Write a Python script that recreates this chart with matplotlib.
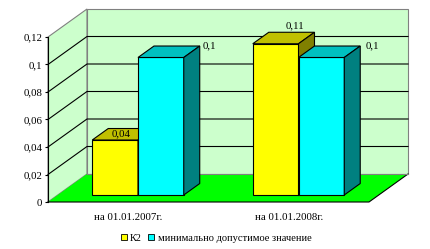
import matplotlib
matplotlib.use("Agg")
import matplotlib.pyplot as plt
from matplotlib.patches import Polygon, Patch
from matplotlib.transforms import offset_copy

# data
categories = ["на 01.01.2007г.", "на 01.01.2008г."]
series_names = ["К2", "минимально допустимое значение"]
k2_values = [0.04, 0.11]
min_values = [0.1, 0.1]
y_ticks = [0, 0.02, 0.04, 0.06, 0.08, 0.1, 0.12]

series_values = [k2_values, min_values]
front_colors = ["#FFFF00", "#00FFFF"]
top_colors = ["#C0C000", "#00C0C0"]
side_colors = ["#808000", "#008080"]
wall_color = "#CCFFCC"
floor_color = "#00FF00"

# label nudges in pixels (dx, dy) for each series/category
label_nudge = [[(-2, 0), (11, 12)], [(41, 6), (43, 6)]]

FONT = "Liberation Serif"
plt.rcParams["font.family"] = [FONT, "DejaVu Serif"]

fig = plt.figure(figsize=(4.30, 2.49), dpi=100)
ax = fig.add_axes([48 / 430, 47 / 249, 321 / 430, 165 / 249])
ax.set_xlim(0, len(categories))
ax.set_ylim(0, 0.12)
ax.patch.set_visible(False)

# depth offset (pixels) of the back wall relative to the front plane
DEPTH_PX = (39, 28)
inv = ax.transData.inverted()
x0, y0 = inv.transform((0, 0))
x1, y1 = inv.transform(DEPTH_PX)
ddx, ddy = x1 - x0, y1 - y0


def proj(x, y, d):
    return (x + ddx * d, y + ddy * d)


def face(pts, color, z, edge="black", lw=0.8):
    poly = Polygon([proj(*p) for p in pts], closed=True, facecolor=color,
                   edgecolor=edge, linewidth=lw, clip_on=False, zorder=z)
    ax.add_patch(poly)


ncat = len(categories)
ymax = y_ticks[-1]

# walls
face([(0, 0, 0), (0, ymax, 0), (0, ymax, 1), (0, 0, 1)], wall_color, 1,
     edge="#808080", lw=0.8)
face([(0, 0, 1), (ncat, 0, 1), (ncat, ymax, 1), (0, ymax, 1)], wall_color, 1,
     edge="#808080", lw=0.8)

# gridlines on back and side walls
for v in y_ticks[1:-1]:
    xs, ys = zip(*[proj(0, v, 0), proj(0, v, 1), proj(ncat, v, 1)])
    ax.plot(xs, ys, color="black", lw=0.8, clip_on=False, zorder=2)

# floor
face([(0, 0, 0), (ncat, 0, 0), (ncat, 0, 1), (0, 0, 1)], floor_color, 3,
     edge="none")
xs, ys = zip(*[proj(0, 0, 0), proj(ncat, 0, 0), proj(ncat, 0, 1)])
ax.plot(xs, ys, color="black", lw=0.8, clip_on=False, zorder=3)
xs, ys = zip(*[proj(0, 0, 1), proj(ncat, 0, 1)])
ax.plot(xs, ys, color="#808080", lw=0.8, clip_on=False, zorder=3)

# bars
bar_w = 0.285
d_front, d_back = 0.25, 0.66
z = 5
for i in range(ncat):
    for s, vals in enumerate(series_values):
        v = vals[i]
        xl = i + 0.5 - bar_w + s * bar_w
        xr = xl + bar_w
        face([(xl, 0, d_front), (xr, 0, d_front), (xr, v, d_front), (xl, v, d_front)],
             front_colors[s], z)
        face([(xl, v, d_front), (xr, v, d_front), (xr, v, d_back), (xl, v, d_back)],
             top_colors[s], z)
        face([(xr, 0, d_front), (xr, 0, d_back), (xr, v, d_back), (xr, v, d_front)],
             side_colors[s], z)
        z += 1
        cx, cy = proj(xl + bar_w / 2, v, (d_front + d_back) / 2)
        dx, dy = label_nudge[s][i]
        tr = offset_copy(ax.transData, fig=fig, x=dx, y=dy, units="dots")
        ax.text(cx, cy, f"{v:g}".replace(".", ","), transform=tr,
                ha="center", va="center", fontsize=7.8, color="black",
                zorder=20, clip_on=False)

# axes styling
for side in ["top", "right", "bottom"]:
    ax.spines[side].set_visible(False)
ax.spines["left"].set_linewidth(0.8)
ax.spines["left"].set_zorder(4)
ax.set_yticks(y_ticks)
ax.set_yticklabels([f"{t:g}".replace(".", ",") for t in y_ticks])
ax.set_xticks([i + 0.5 for i in range(ncat)])
ax.set_xticklabels(categories)
ax.tick_params(axis="y", length=2, width=0.8, pad=2, labelsize=7.8)
ax.tick_params(axis="x", length=0, pad=8, labelsize=7.8)

handles = [Patch(facecolor=c, edgecolor="black", linewidth=0.6) for c in front_colors]
fig.legend(handles, series_names, loc="center", bbox_to_anchor=(216 / 430, 1 - 238 / 249),
           ncol=2, frameon=False, fontsize=7.5, handlelength=0.6, handleheight=0.6,
           handletextpad=0.3, columnspacing=0.6, borderpad=0)

fig.savefig("out.png", dpi=100)
